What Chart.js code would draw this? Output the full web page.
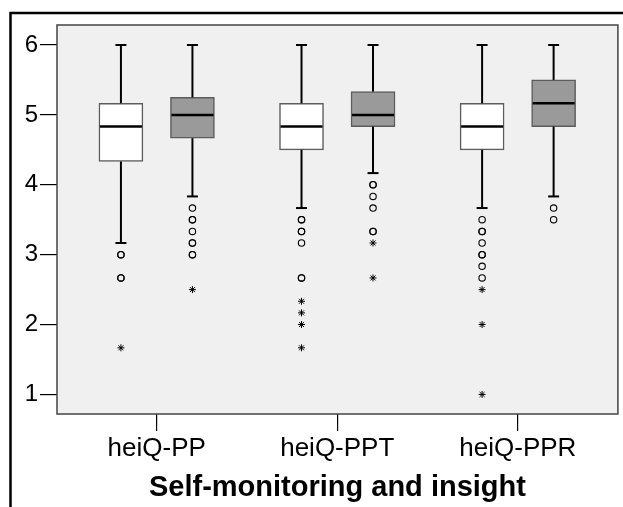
<!DOCTYPE html>
<html>
<head>
<meta charset="utf-8">
<script src="https://cdn.jsdelivr.net/npm/chart.js@4"></script>
<style>
  html, body { margin: 0; padding: 0; background: #fff; }
  #wrap { width: 623px; height: 507px; }
</style>
</head>
<body>
<div id="wrap"><canvas id="chart" width="623" height="507"></canvas></div>
<script>
// scale categories and axis ticks
const categories = ["heiQ-PP", "heiQ-PPT", "heiQ-PPR"];
const yTicks = [1, 2, 3, 4, 5, 6];
const axisTitle = "Self-monitoring and insight";

// white boxes (first measurement)
const whiteMin = [3.167, 3.667, 3.667];
const whiteQ1 = [4.333, 4.5, 4.5];
const whiteMed = [4.833, 4.833, 4.833];
const whiteQ3 = [5.167, 5.167, 5.167];
const whiteMax = [6, 6, 6];
const whiteOutliers = [
  [3.0, 3.0, 2.667, 2.667],
  [3.5, 3.5, 3.333, 3.333, 3.167, 2.667, 2.667],
  [3.5, 3.333, 3.333, 3.167, 3.0, 3.0, 2.833, 2.667],
];
const whiteExtremes = [
  [1.667],
  [2.333, 2.167, 2.0, 1.667],
  [2.5, 2.0, 1.0],
];

// grey boxes (second measurement)
const greyMin = [3.833, 4.167, 3.833];
const greyQ1 = [4.667, 4.833, 4.833];
const greyMed = [5.0, 5.0, 5.167];
const greyQ3 = [5.25, 5.333, 5.5];
const greyMax = [6, 6, 6];
const greyOutliers = [
  [3.667, 3.5, 3.5, 3.333, 3.167, 3.167, 3.0, 3.0],
  [4.0, 4.0, 3.833, 3.667, 3.333, 3.333],
  [3.667, 3.5],
];
const greyExtremes = [
  [2.5],
  [3.167, 2.667],
  [],
];

// offset of each box from its category tick (axis units)
const SHIFT = 0.198;

const groups = [
  { label: "Sample 1", shift: -SHIFT, fill: "#ffffff", min: whiteMin, q1: whiteQ1, med: whiteMed, q3: whiteQ3, max: whiteMax, out: whiteOutliers, ext: whiteExtremes },
  { label: "Sample 2", shift: SHIFT, fill: "#9a9a9a", min: greyMin, q1: greyQ1, med: greyMed, q3: greyQ3, max: greyMax, out: greyOutliers, ext: greyExtremes },
];

const datasets = [];
groups.forEach((g) => {
  datasets.push({
    type: "bar",
    label: g.label,
    data: categories.map((_, i) => ({ x: i + 1 + g.shift, y: [g.q1[i], g.q3[i]] })),
    backgroundColor: g.fill,
    borderColor: "#5c5c5c",
    borderWidth: 1.5,
    borderSkipped: false,
    barThickness: 44,
    grouped: false,
  });
});
groups.forEach((g) => {
  datasets.push({
    type: "scatter",
    label: g.label + " outliers",
    data: g.out.flatMap((vals, i) => vals.map((v) => ({ x: i + 1 + g.shift, y: v }))),
    pointStyle: "circle",
    radius: 3.2,
    borderWidth: 1.1,
    borderColor: "#000",
    backgroundColor: "rgba(0,0,0,0)",
  });
  datasets.push({
    type: "scatter",
    label: g.label + " extremes",
    data: g.ext.flatMap((vals, i) => vals.map((v) => ({ x: i + 1 + g.shift, y: v }))),
    pointStyle: "star",
    radius: 3.5,
    borderWidth: 1,
    borderColor: "#000",
  });
});

function line(ctx, x1, y1, x2, y2) {
  ctx.beginPath();
  ctx.moveTo(x1, y1);
  ctx.lineTo(x2, y2);
  ctx.stroke();
}

// plot background, whiskers, medians and frames
const boxParts = {
  id: "boxParts",
  beforeDraw(chart) {
    const { ctx, chartArea: a } = chart;
    ctx.save();
    ctx.fillStyle = "#f0f0f0";
    ctx.fillRect(a.left, a.top, a.right - a.left, a.bottom - a.top);
    ctx.restore();
  },
  afterDatasetsDraw(chart) {
    const { ctx, scales: { x, y }, chartArea: a } = chart;
    ctx.save();
    ctx.strokeStyle = "#000";
    groups.forEach((g, gi) => {
      const meta = chart.getDatasetMeta(gi);
      categories.forEach((_, i) => {
        const cx = x.getPixelForValue(i + 1 + g.shift);
        const half = meta.data[i].width / 2;
        const capHalf = 5.5;
        ctx.lineWidth = 2;
        line(ctx, cx, y.getPixelForValue(g.max[i]), cx, y.getPixelForValue(g.q3[i]));
        line(ctx, cx, y.getPixelForValue(g.q1[i]), cx, y.getPixelForValue(g.min[i]));
        line(ctx, cx - capHalf, y.getPixelForValue(g.max[i]), cx + capHalf, y.getPixelForValue(g.max[i]));
        line(ctx, cx - capHalf, y.getPixelForValue(g.min[i]), cx + capHalf, y.getPixelForValue(g.min[i]));
        ctx.lineWidth = 2.5;
        const ym = y.getPixelForValue(g.med[i]);
        line(ctx, cx - half + 1, ym, cx + half - 1, ym);
      });
    });
    ctx.strokeStyle = "#444";
    ctx.lineWidth = 1.5;
    ctx.strokeRect(a.left, a.top, a.right - a.left, a.bottom - a.top);
    // outer frame
    ctx.strokeStyle = "#000";
    ctx.lineWidth = 2.5;
    ctx.beginPath();
    ctx.moveTo(10.5, 507);
    ctx.lineTo(10.5, 13);
    ctx.lineTo(623, 13);
    ctx.stroke();
    ctx.restore();
  },
};

new Chart(document.getElementById("chart"), {
  data: { datasets },
  options: {
    responsive: false,
    animation: false,
    layout: { padding: { left: 0, top: 25, right: 2, bottom: 0 } },
    plugins: { legend: { display: false }, tooltip: { enabled: false } },
    scales: {
      x: {
        type: "linear",
        offset: false,
        min: 0.448,
        max: 3.554,
        afterBuildTicks: (s) => { s.ticks = categories.map((_, i) => ({ value: i + 1 })); },
        afterFit: (s) => { s.height = 93; },
        ticks: {
          autoSkip: false,
          maxRotation: 0,
          padding: 2,
          color: "#000",
          font: { family: "'Liberation Sans', Arial, sans-serif", size: 26 },
          callback: (v) => categories[v - 1],
        },
        grid: { offset: false, drawOnChartArea: false, drawTicks: true, tickLength: 17, color: "#000", lineWidth: 1.2 },
        border: { display: false },
        title: {
          display: true,
          text: axisTitle,
          color: "#000",
          padding: { top: 0, bottom: 2 },
          font: { family: "'Liberation Sans', Arial, sans-serif", size: 29, weight: "bold" },
        },
      },
      y: {
        type: "linear",
        min: 0.72,
        max: 6.286,
        afterBuildTicks: (s) => { s.ticks = yTicks.map((v) => ({ value: v })); },
        afterFit: (s) => { s.width = 57; },
        ticks: {
          padding: 2,
          color: "#000",
          font: { family: "'Liberation Sans', Arial, sans-serif", size: 24 },
        },
        grid: { drawOnChartArea: false, drawTicks: true, tickLength: 17, color: "#000", lineWidth: 1.2 },
        border: { display: false },
      },
    },
  },
  plugins: [boxParts],
});
</script>
</body>
</html>
